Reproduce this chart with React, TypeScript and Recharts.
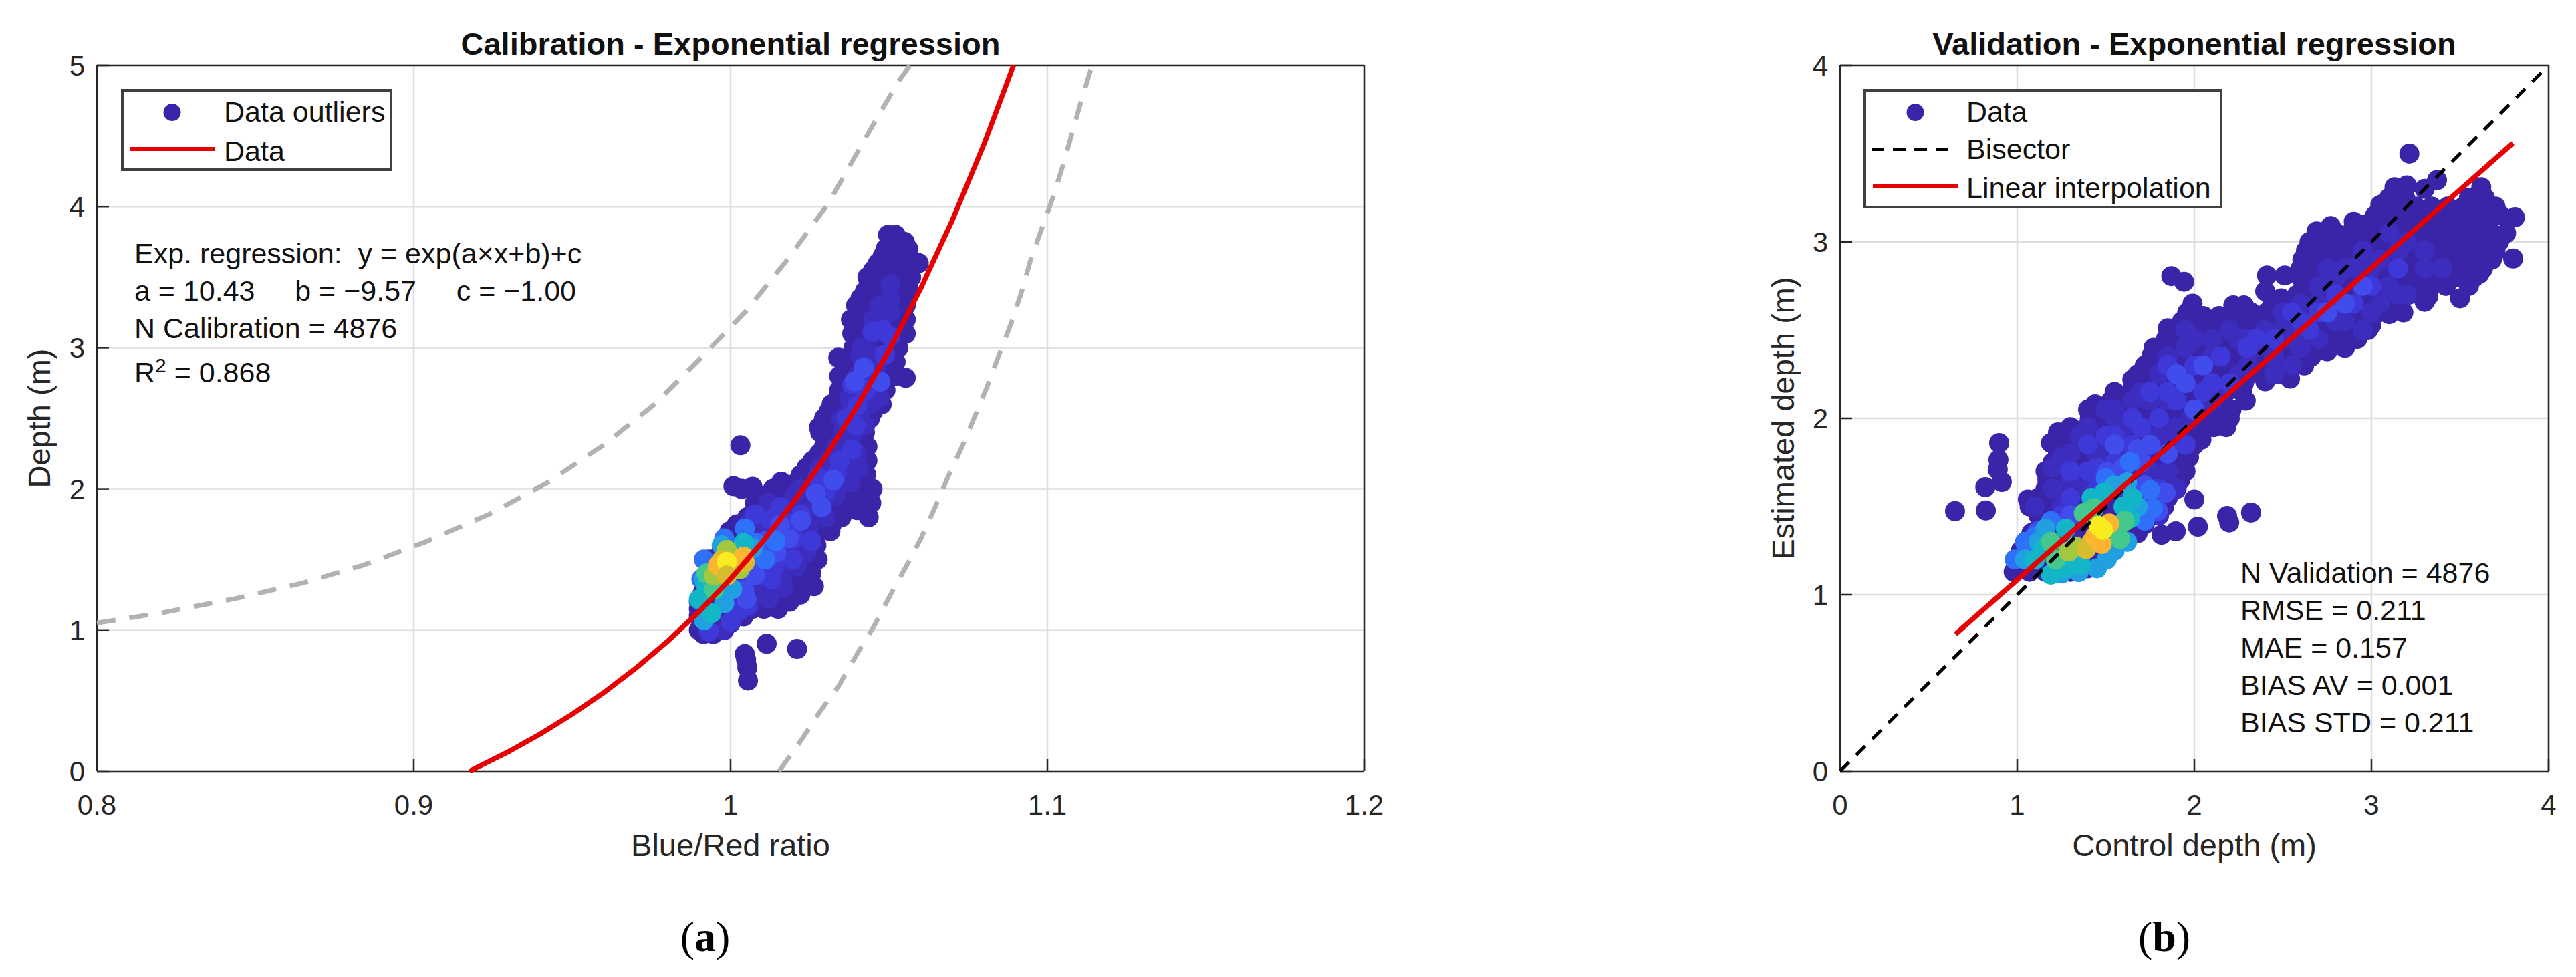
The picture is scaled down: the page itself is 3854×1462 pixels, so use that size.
import { ScatterChart, Scatter, XAxis, YAxis, CartesianGrid } from 'recharts';

type Pt = [number, number];

const FONT = '"Liberation Sans", Arial, sans-serif';

// density colours, low to high (parula-ish)
const TIER_COLORS = ['#3a25a8', '#3c2dbe', '#3f38d8', '#404cec', '#2f70f8', '#20a0e0', '#12b6c6', '#44c88c', '#a2c840', '#d8bc30', '#fdb430', '#f8ec20', '#d8bc30'];

// ---- (a) calibration ----
const CAL_X_TICKS = [0.8, 0.9, 1, 1.1, 1.2];
const CAL_Y_TICKS = [0, 1, 2, 3, 4, 5];

const calFit: Pt[] = [[0.9176, 0], [0.93, 0.139], [0.94, 0.264], [0.95, 0.403], [0.96, 0.557], [0.97, 0.728], [0.98, 0.918], [0.99, 1.129], [1, 1.363], [1.01, 1.623], [1.02, 1.911], [1.03, 2.231], [1.04, 2.587], [1.05, 2.981], [1.06, 3.419], [1.07, 3.904], [1.08, 4.443], [1.0893, 5]];
const calUpper: Pt[] = [[0.8, 1.05], [0.82, 1.12], [0.8436, 1.222], [0.8646, 1.331], [0.884, 1.459], [0.9033, 1.621], [0.9243, 1.826], [0.9421, 2.043], [0.9598, 2.309], [0.976, 2.599], [0.9905, 2.925], [1.005, 3.263], [1.018, 3.626], [1.0309, 4.024], [1.0462, 4.628], [1.0532, 4.894], [1.0566, 5]];
const calLower: Pt[] = [[1.0153, 0], [1.0227, 0.232], [1.0278, 0.408], [1.034, 0.599], [1.0401, 0.837], [1.0453, 1.028], [1.0505, 1.251], [1.0552, 1.442], [1.0601, 1.649], [1.0646, 1.872], [1.0685, 2.078], [1.0731, 2.301], [1.0773, 2.524], [1.0811, 2.731], [1.0848, 2.954], [1.0886, 3.176], [1.0919, 3.4], [1.0947, 3.622], [1.0985, 3.861], [1.1018, 4.068], [1.1051, 4.306], [1.1079, 4.529], [1.1107, 4.752], [1.1141, 5]];

const calOutliers: Pt[] = [[1.0031, 2.309], [1.0009, 2.02], [1.0069, 2.015], [1.0035, 2.0], [1.0114, 0.903], [1.021, 0.866], [1.0045, 0.83], [1.0053, 0.734], [1.0055, 0.642], [1.0049, 0.79], [1.034, 2.93], [1.0553, 2.787], [1.0279, 2.436], [1.0263, 1.31]];
const calDark: Pt[] = [
  [1.0497, 3.8], [1.0521, 3.8],
  [1.051, 3.75], [1.055, 3.75],
  [1.0489, 3.7], [1.0525, 3.7], [1.0561, 3.7],
  [1.048, 3.65], [1.052, 3.65], [1.056, 3.65],
  [1.0465, 3.6], [1.05, 3.6], [1.054, 3.6], [1.0594, 3.6],
  [1.045, 3.55], [1.049, 3.55], [1.053, 3.55], [1.057, 3.55],
  [1.0432, 3.5], [1.047, 3.5], [1.051, 3.5], [1.055, 3.5], [1.057, 3.5],
  [1.044, 3.45], [1.048, 3.45], [1.052, 3.45], [1.056, 3.45],
  [1.0424, 3.4], [1.046, 3.4], [1.05, 3.4], [1.054, 3.4], [1.0561, 3.4],
  [1.041, 3.35], [1.045, 3.35], [1.049, 3.35], [1.053, 3.35],
  [1.0396, 3.3], [1.0435, 3.3], [1.048, 3.3], [1.052, 3.3], [1.0553, 3.3],
  [1.04, 3.25], [1.044, 3.25], [1.048, 3.25], [1.052, 3.25],
  [1.038, 3.2], [1.042, 3.2], [1.046, 3.2], [1.05, 3.2], [1.0553, 3.2],
  [1.04, 3.15], [1.045, 3.15], [1.05, 3.15], [1.054, 3.15],
  [1.0384, 3.1], [1.043, 3.1], [1.0475, 3.1], [1.052, 3.1], [1.0553, 3.1],
  [1.041, 3.05], [1.045, 3.05], [1.05, 3.05],
  [1.0388, 3.0], [1.043, 3.0], [1.047, 3.0], [1.051, 3.0], [1.0529, 3.0],
  [1.038, 2.95], [1.043, 2.95], [1.048, 2.95], [1.051, 2.95],
  [1.036, 2.9], [1.04, 2.9], [1.045, 2.9], [1.05, 2.9], [1.0521, 2.9],
  [1.037, 2.85], [1.042, 2.85], [1.047, 2.85], [1.051, 2.85],
  [1.0343, 2.8], [1.039, 2.8], [1.044, 2.8], [1.049, 2.8], [1.0521, 2.8],
  [1.036, 2.75], [1.041, 2.75], [1.046, 2.75],
  [1.0343, 2.7], [1.039, 2.7], [1.044, 2.7], [1.0489, 2.7],
  [1.034, 2.65], [1.039, 2.65], [1.044, 2.65], [1.047, 2.65],
  [1.0319, 2.6], [1.0365, 2.6], [1.0415, 2.6], [1.0477, 2.6],
  [1.031, 2.55], [1.036, 2.55], [1.041, 2.55], [1.045, 2.55],
  [1.0295, 2.5], [1.034, 2.5], [1.039, 2.5], [1.044, 2.5],
  [1.031, 2.45], [1.036, 2.45], [1.041, 2.45],
  [1.0283, 2.4], [1.033, 2.4], [1.038, 2.4], [1.0424, 2.4],
  [1.031, 2.35], [1.036, 2.35], [1.041, 2.35],
  [1.0295, 2.3], [1.034, 2.3], [1.039, 2.3], [1.0432, 2.3],
  [1.028, 2.25], [1.032, 2.25], [1.037, 2.25], [1.042, 2.25],
  [1.0259, 2.2], [1.03, 2.2], [1.035, 2.2], [1.04, 2.2], [1.0432, 2.2],
  [1.024, 2.15], [1.03, 2.15], [1.035, 2.15], [1.04, 2.15],
  [1.0222, 2.1], [1.027, 2.1], [1.032, 2.1], [1.037, 2.1], [1.0428, 2.1],
  [1.016, 2.05], [1.021, 2.05], [1.026, 2.05], [1.031, 2.05], [1.036, 2.05], [1.042, 2.05],
  [1.0134, 2.0], [1.018, 2.0], [1.023, 2.0], [1.028, 2.0], [1.033, 2.0], [1.038, 2.0], [1.0448, 2.0],
  [1.011, 1.95], [1.015, 1.95], [1.02, 1.95], [1.025, 1.95], [1.03, 1.95], [1.035, 1.95], [1.04, 1.95],
  [1.0077, 1.9], [1.012, 1.9], [1.017, 1.9], [1.022, 1.9], [1.027, 1.9], [1.032, 1.9], [1.037, 1.9], [1.0444, 1.9],
  [1.008, 1.85], [1.012, 1.85], [1.018, 1.85], [1.023, 1.85], [1.028, 1.85], [1.033, 1.85], [1.04, 1.85],
  [1.0053, 1.8], [1.01, 1.8], [1.015, 1.8], [1.02, 1.8], [1.025, 1.8], [1.03, 1.8], [1.035, 1.8], [1.0436, 1.8],
  [1.002, 1.75], [1.007, 1.75], [1.012, 1.75], [1.017, 1.75], [1.022, 1.75], [1.027, 1.75], [1.032, 1.75],
  [0.9997, 1.7], [1.004, 1.7], [1.009, 1.7], [1.014, 1.7], [1.019, 1.7], [1.024, 1.7], [1.0315, 1.7],
  [1.0, 1.65], [1.006, 1.65], [1.011, 1.65], [1.016, 1.65], [1.021, 1.65], [1.026, 1.65],
  [0.9984, 1.6], [1.003, 1.6], [1.008, 1.6], [1.013, 1.6], [1.018, 1.6], [1.023, 1.6], [1.0271, 1.6],
  [0.997, 1.55], [1.001, 1.55], [1.006, 1.55], [1.011, 1.55], [1.016, 1.55], [1.021, 1.55], [1.026, 1.55],
  [0.9932, 1.5], [0.998, 1.5], [1.003, 1.5], [1.008, 1.5], [1.013, 1.5], [1.018, 1.5], [1.023, 1.5], [1.0275, 1.5],
  [0.993, 1.45], [0.9995, 1.45], [1.005, 1.45], [1.01, 1.45], [1.015, 1.45], [1.02, 1.45], [1.025, 1.45],
  [0.9924, 1.4], [0.997, 1.4], [1.002, 1.4], [1.007, 1.4], [1.012, 1.4], [1.017, 1.4], [1.022, 1.4], [1.0255, 1.4],
  [0.992, 1.35], [0.9985, 1.35], [1.004, 1.35], [1.009, 1.35], [1.014, 1.35], [1.019, 1.35], [1.024, 1.35],
  [0.9916, 1.3], [0.996, 1.3], [1.001, 1.3], [1.006, 1.3], [1.011, 1.3], [1.016, 1.3], [1.021, 1.3],
  [0.991, 1.25], [0.9975, 1.25], [1.003, 1.25], [1.008, 1.25], [1.013, 1.25], [1.018, 1.25], [1.022, 1.25],
  [0.99, 1.2], [0.995, 1.2], [1.0, 1.2], [1.005, 1.2], [1.01, 1.2], [1.015, 1.2], [1.0186, 1.2],
  [0.99, 1.15], [0.9975, 1.15], [1.003, 1.15], [1.007, 1.15], [1.0105, 1.15], [1.015, 1.15],
  [0.99, 1.1], [0.995, 1.1], [1.0, 1.1], [1.0041, 1.096],
  [0.991, 1.05], [0.996, 1.05], [1.0, 1.05],
  [0.99, 1.0], [0.9935, 1.0], [0.9972, 1.0], [0.9915, 0.972], [0.9945, 0.972],
];
const calMid: Pt[] = [[1.0505, 3.45], [1.0505, 3.35], [1.047, 3.3], [1.0505, 3.25], [1.045, 3.2], [1.045, 3.1], [1.049, 3.1], [1.0415, 3.0], [1.045, 2.95], [1.049, 2.95], [1.04, 2.8], [1.044, 2.75], [1.046, 2.85], [1.0375, 2.65], [1.041, 2.55], [1.035, 2.5], [1.039, 2.4], [1.036, 2.3], [1.04, 2.25], [1.031, 2.2], [1.035, 2.15], [1.038, 2.05], [1.028, 2.05], [1.033, 1.95], [1.02, 1.95], [1.015, 1.85], [1.025, 1.85], [1.03, 1.8], [1.01, 1.75], [1.02, 1.7], [1.0055, 1.75], [1.015, 1.55], [1.02, 1.6], [1.006, 1.3], [1.012, 1.35], [1.003, 1.2], [1.009, 1.25], [1.017, 1.4], [0.998, 1.0], [1.041, 2.95], [1.047, 2.65], [1.0425, 2.45], [1.0335, 2.3], [1.028, 2.15], [1.022, 2.0], [1.012, 1.9], [1.007, 1.8], [1.016, 1.72], [1.025, 1.72], [1.01, 1.5], [1.0165, 1.3], [1.001, 1.12], [1.024, 1.55], [1.021, 1.45], [1.012, 1.22], [1.006, 1.17], [1.038, 2.6], [1.044, 2.6], [1.0355, 2.4], [1.0405, 2.15], [1.0335, 2.02]];
const calBlue3: Pt[] = [[1.0481, 3.125], [1.0424, 2.86], [1.0384, 2.74], [1.04, 2.594], [1.0303, 1.99], [1.0158, 1.87], [1.0077, 1.82], [1.0222, 1.82], [1.0336, 2.11], [1.0384, 2.28], [1.0045, 1.36], [1.0029, 1.14], [0.9932, 0.99], [1.0158, 1.68], [1.0255, 1.63], [1.0093, 1.39], [1.0505, 3.08], [1.0448, 3.113], [1.0486, 2.95], [1.0429, 2.7], [1.0137, 1.458], [1.0052, 1.171], [1.02, 1.65], [1.0125, 1.78], [1.0185, 1.76], [1.013, 1.36], [1.0195, 1.5], [1.0, 1.06], [1.0365, 2.5], [1.0345, 2.2], [1.0275, 2.08], [1.0395, 2.45]];
const calBlue4: Pt[] = [[1.042, 2.858], [1.0473, 2.76], [1.0392, 2.763], [1.0269, 1.967], [1.0222, 1.776], [1.0156, 1.744], [1.0288, 1.872], [1.0325, 2.063], [1.0184, 1.649], [1.0109, 1.63], [1.0077, 1.39], [1.0043, 1.28], [1.0145, 1.55], [1.0085, 1.5], [1.005, 1.22]];
const calBlue5: Pt[] = [[0.998, 1.65], [1.0045, 1.72], [1.0142, 1.63], [1.0109, 1.5], [0.9916, 1.5], [0.9908, 1.36], [1.008, 1.617]];
const calCyan: Pt[] = [[0.998, 1.19], [1.0005, 1.29], [0.9916, 1.07], [0.9972, 1.6], [1.0069, 1.58], [0.9916, 1.36]];
const calTeal: Pt[] = [[1.0041, 1.616], [0.99, 1.217], [0.994, 1.12], [0.9924, 1.31]];
const calGreen: Pt[] = [[0.9924, 1.4], [0.9948, 1.29]];
const calLime: Pt[] = [[0.9988, 1.567], [0.9948, 1.386], [1.0029, 1.43]];
const calMustard: Pt[] = [[0.9972, 1.495], [1.0045, 1.48]];
const calOrange: Pt[] = [[0.996, 1.458], [1.0041, 1.52]];
const calYellow: Pt[] = [[0.9988, 1.483]];
const calMustardTop: Pt[] = [[0.9988, 1.386]];

const calLayers = [[...calDark, ...calOutliers], calMid, calBlue3, calBlue4, calBlue5, calCyan, calTeal, calGreen, calLime, calMustard, calOrange, calYellow, calMustardTop];

// ---- (b) validation ----
const VAL_TICKS = [0, 1, 2, 3, 4];

const valFit: Pt[] = [[0.652, 0.777], [3.798, 3.559]];
const valBisector: Pt[] = [[0, 0], [3.97, 3.97]];

const valOutliers: Pt[] = [[0.649, 1.474], [0.823, 1.478], [0.82, 1.61], [0.913, 1.64], [0.89, 1.71], [0.894, 1.765], [0.898, 1.86], [1.06, 1.54], [2.0, 1.54], [2.02, 1.386], [1.895, 1.36], [1.815, 1.34], [2.185, 1.447], [2.197, 1.41], [2.32, 1.466], [3.214, 3.5], [3.37, 3.35], [3.13, 3.31], [3.2, 3.32], [3.3, 3.3], [3.62, 3.31], [1.87, 2.806], [1.942, 2.774], [3.8, 2.906], [3.81, 3.14], [3.05, 3.21], [2.69, 3.06], [2.77, 3.09], [2.9, 3.115], [3.61, 2.82], [3.69, 2.93], [2.66, 2.35], [2.54, 2.225], [2.29, 2.1], [2.18, 1.95], [2.85, 2.45], [3.18, 2.6], [1.76, 2.36], [1.85, 2.51], [1.99, 2.65]];
const valDark: Pt[] = [
  [3.1, 3.25], [3.19, 3.25], [3.55, 3.25], [3.64, 3.25],
  [3.07, 3.2], [3.16, 3.2], [3.25, 3.2], [3.34, 3.2], [3.43, 3.2], [3.52, 3.2], [3.61, 3.2], [3.7, 3.2],
  [3.02, 3.15], [3.11, 3.15], [3.2, 3.15], [3.29, 3.15], [3.38, 3.15], [3.47, 3.15], [3.56, 3.15], [3.65, 3.15], [3.73, 3.15],
  [2.97, 3.1], [3.03, 3.1], [3.12, 3.1], [3.21, 3.1], [3.3, 3.1], [3.39, 3.1], [3.48, 3.1], [3.57, 3.1], [3.66, 3.1], [3.76, 3.05],
  [2.72, 3.05], [2.8, 3.05], [2.88, 3.05], [2.96, 3.05], [3.05, 3.05], [3.14, 3.05], [3.23, 3.05], [3.32, 3.05], [3.41, 3.05], [3.5, 3.05], [3.59, 3.05], [3.68, 3.05],
  [2.65, 3.0], [2.73, 3.0], [2.82, 3.0], [2.91, 3.0], [3.0, 3.0], [3.09, 3.0], [3.18, 3.0], [3.27, 3.0], [3.36, 3.0], [3.45, 3.0], [3.54, 3.0], [3.63, 3.0], [3.72, 3.0],
  [2.63, 2.95], [2.71, 2.95], [2.8, 2.95], [2.89, 2.95], [2.98, 2.95], [3.07, 2.95], [3.16, 2.95], [3.25, 2.95], [3.34, 2.95], [3.43, 2.95], [3.52, 2.95], [3.61, 2.95], [3.7, 2.95],
  [2.61, 2.9], [2.69, 2.9], [2.78, 2.9], [2.87, 2.9], [2.96, 2.9], [3.05, 2.9], [3.14, 2.9], [3.23, 2.9], [3.32, 2.9], [3.41, 2.9], [3.5, 2.9], [3.59, 2.9], [3.68, 2.9],
  [2.6, 2.85], [2.65, 2.85], [2.73, 2.85], [2.82, 2.85], [2.91, 2.85], [3.0, 2.85], [3.09, 2.85], [3.18, 2.85], [3.27, 2.85], [3.36, 2.85], [3.45, 2.85], [3.54, 2.85], [3.63, 2.85],
  [2.41, 2.81], [2.51, 2.81], [2.6, 2.8], [2.68, 2.8], [2.77, 2.8], [2.86, 2.8], [2.95, 2.8], [3.04, 2.8], [3.13, 2.8], [3.22, 2.8], [3.31, 2.8], [3.4, 2.8], [3.49, 2.8], [3.58, 2.8],
  [2.62, 2.75], [2.7, 2.75], [2.79, 2.75], [2.88, 2.75], [2.97, 2.75], [3.06, 2.75], [3.15, 2.75], [3.24, 2.75], [3.33, 2.75], [3.42, 2.75], [3.55, 2.75],
  [2.4, 2.72], [2.49, 2.68], [2.58, 2.7], [2.67, 2.7], [2.76, 2.7], [2.85, 2.7], [2.94, 2.7], [3.03, 2.7], [3.12, 2.7], [3.21, 2.7], [3.32, 2.69], [3.5, 2.68],
  [2.22, 2.64], [2.28, 2.64], [2.44, 2.65], [2.53, 2.65], [2.62, 2.65], [2.71, 2.65], [2.8, 2.65], [2.89, 2.65], [2.98, 2.65], [3.07, 2.65], [3.16, 2.65], [3.3, 2.66],
  [1.96, 2.6], [2.05, 2.58], [2.14, 2.58], [2.23, 2.6], [2.32, 2.6], [2.41, 2.6], [2.5, 2.6], [2.59, 2.6], [2.68, 2.6], [2.77, 2.6], [2.86, 2.6], [2.95, 2.6], [3.04, 2.6], [3.1, 2.59],
  [1.93, 2.55], [2.02, 2.55], [2.11, 2.55], [2.2, 2.55], [2.29, 2.55], [2.38, 2.55], [2.47, 2.55], [2.56, 2.55], [2.65, 2.55], [2.74, 2.55], [2.83, 2.55], [2.92, 2.55], [3.0, 2.53],
  [1.9, 2.5], [1.99, 2.5], [2.08, 2.5], [2.17, 2.5], [2.26, 2.5], [2.35, 2.5], [2.44, 2.5], [2.53, 2.5], [2.62, 2.5], [2.71, 2.5], [2.8, 2.5], [2.89, 2.5], [2.98, 2.5],
  [1.84, 2.45], [1.93, 2.45], [2.02, 2.45], [2.11, 2.45], [2.2, 2.45], [2.29, 2.45], [2.38, 2.45], [2.47, 2.45], [2.56, 2.45], [2.65, 2.45], [2.74, 2.45], [2.83, 2.45], [2.92, 2.45],
  [1.77, 2.4], [1.86, 2.4], [1.95, 2.4], [2.04, 2.4], [2.13, 2.4], [2.22, 2.4], [2.31, 2.4], [2.4, 2.4], [2.49, 2.4], [2.58, 2.4], [2.67, 2.4], [2.76, 2.4], [2.85, 2.4],
  [1.85, 2.35], [1.94, 2.35], [2.03, 2.35], [2.12, 2.35], [2.21, 2.35], [2.3, 2.35], [2.39, 2.35], [2.48, 2.35], [2.57, 2.35], [2.75, 2.38],
  [1.72, 2.3], [1.81, 2.3], [1.9, 2.3], [1.99, 2.3], [2.08, 2.3], [2.17, 2.3], [2.26, 2.3], [2.35, 2.3], [2.44, 2.3], [2.53, 2.3], [2.62, 2.3],
  [1.68, 2.25], [1.77, 2.25], [1.86, 2.25], [1.95, 2.25], [2.04, 2.25], [2.13, 2.25], [2.22, 2.25], [2.31, 2.25], [2.4, 2.25], [2.49, 2.25],
  [1.65, 2.22], [1.74, 2.2], [1.83, 2.2], [1.92, 2.2], [2.01, 2.2], [2.1, 2.2], [2.19, 2.2], [2.28, 2.2], [2.4, 2.21],
  [1.55, 2.15], [1.64, 2.15], [1.73, 2.15], [1.82, 2.15], [1.91, 2.15], [2.0, 2.15], [2.09, 2.15], [2.18, 2.15], [2.27, 2.15],
  [1.44, 2.08], [1.53, 2.1], [1.62, 2.1], [1.71, 2.1], [1.8, 2.1], [1.89, 2.1], [1.98, 2.1], [2.07, 2.1], [2.16, 2.1],
  [1.4, 2.05], [1.49, 2.05], [1.58, 2.05], [1.67, 2.05], [1.76, 2.05], [1.85, 2.05], [1.94, 2.05], [2.03, 2.05], [2.12, 2.05], [2.21, 2.05],
  [1.41, 2.0], [1.5, 2.0], [1.59, 2.0], [1.68, 2.0], [1.77, 2.0], [1.86, 2.0], [1.95, 2.0], [2.04, 2.0], [2.13, 2.0], [2.2, 2.0],
  [1.3, 1.95], [1.39, 1.95], [1.48, 1.95], [1.57, 1.95], [1.66, 1.95], [1.75, 1.95], [1.84, 1.95], [1.93, 1.95], [2.02, 1.95], [2.11, 1.95],
  [1.23, 1.92], [1.32, 1.9], [1.41, 1.9], [1.5, 1.9], [1.59, 1.9], [1.68, 1.9], [1.77, 1.9], [1.86, 1.9], [1.95, 1.9], [2.04, 1.88],
  [1.19, 1.86], [1.28, 1.85], [1.37, 1.85], [1.46, 1.85], [1.55, 1.85], [1.64, 1.85], [1.73, 1.85], [1.82, 1.85], [1.91, 1.85], [2.0, 1.85],
  [1.23, 1.8], [1.31, 1.8], [1.4, 1.8], [1.49, 1.8], [1.58, 1.8], [1.67, 1.8], [1.76, 1.8], [1.85, 1.8], [1.97, 1.78],
  [1.2, 1.75], [1.28, 1.75], [1.37, 1.75], [1.46, 1.75], [1.55, 1.75], [1.64, 1.75], [1.73, 1.75], [1.82, 1.75], [1.91, 1.75],
  [1.16, 1.7], [1.25, 1.7], [1.34, 1.7], [1.43, 1.7], [1.52, 1.7], [1.61, 1.7], [1.7, 1.7], [1.79, 1.7], [1.88, 1.7], [1.95, 1.7],
  [1.17, 1.65], [1.28, 1.65], [1.37, 1.65], [1.46, 1.65], [1.55, 1.65], [1.64, 1.65], [1.73, 1.65], [1.82, 1.65], [1.92, 1.65],
  [1.16, 1.6], [1.24, 1.6], [1.33, 1.6], [1.42, 1.6], [1.51, 1.6], [1.6, 1.6], [1.69, 1.6], [1.78, 1.6], [1.88, 1.6],
  [1.12, 1.55], [1.2, 1.55], [1.29, 1.55], [1.38, 1.55], [1.47, 1.55], [1.56, 1.55], [1.65, 1.55], [1.74, 1.55], [1.85, 1.55],
  [1.07, 1.5], [1.15, 1.5], [1.24, 1.5], [1.33, 1.5], [1.42, 1.5], [1.51, 1.5], [1.6, 1.5], [1.69, 1.5], [1.78, 1.5], [1.83, 1.5],
  [1.12, 1.45], [1.2, 1.45], [1.29, 1.45], [1.38, 1.45], [1.47, 1.45], [1.56, 1.45], [1.65, 1.45], [1.74, 1.45], [1.8, 1.45],
  [1.13, 1.4], [1.2, 1.4], [1.3, 1.4], [1.4, 1.4], [1.5, 1.4], [1.6, 1.4], [1.72, 1.4],
  [1.08, 1.35], [1.18, 1.35], [1.27, 1.35], [1.36, 1.35], [1.45, 1.35], [1.54, 1.35], [1.63, 1.35], [1.68, 1.35],
  [1.05, 1.3], [1.14, 1.3], [1.23, 1.3], [1.32, 1.3], [1.41, 1.3], [1.5, 1.3], [1.57, 1.3],
  [1.02, 1.25], [1.11, 1.25], [1.2, 1.25], [1.29, 1.25], [1.38, 1.25], [1.47, 1.25], [1.54, 1.25],
  [1.0, 1.2], [1.09, 1.2], [1.18, 1.2], [1.27, 1.2], [1.36, 1.2], [1.45, 1.2], [1.49, 1.2],
  [0.98, 1.13], [1.07, 1.13], [1.16, 1.13], [1.2, 1.13], [1.3, 1.13], [1.4, 1.15],
];
const valMid: Pt[] = [
  [1.3, 1.65], [1.4, 1.6], [1.3, 1.8], [1.45, 1.8], [1.6, 1.85], [1.75, 1.7], [1.4, 1.95], [1.55, 2.0], [1.7, 1.95], [1.85, 1.85], [1.55, 2.05], [1.7, 2.15],
  [1.85, 2.35], [1.95, 2.4], [2.1, 2.45], [2.25, 2.45], [2.4, 2.5], [2.15, 2.15], [2.3, 2.3], [2.45, 2.35], [2.55, 2.45], [2.5, 2.6], [2.65, 2.5], [2.7, 2.75], [2.75, 2.85], [2.85, 2.55], [2.9, 2.85], [3.0, 2.6], [3.0, 2.85], [3.1, 2.75], [3.2, 3.0], [3.3, 2.85], [3.15, 2.95], [1.2, 1.6], [1.9, 1.6], [1.8, 1.55],
  [1.5, 1.65], [1.6, 1.7], [1.2, 1.72], [1.85, 1.7], [1.35, 1.9], [1.6, 1.95], [1.8, 1.9], [1.9, 1.95], [1.65, 2.1], [1.85, 2.1], [1.98, 2.0], [2.1, 2.1], [1.8, 2.25], [1.95, 2.5], [2.1, 2.35], [2.25, 2.25], [2.35, 2.4], [2.5, 2.5], [2.45, 2.25], [2.6, 2.4], [2.7, 2.45], [2.6, 2.65], [2.8, 2.55], [2.8, 2.8], [2.95, 2.5], [2.95, 2.95], [3.05, 2.65], [3.2, 2.7], [3.1, 3.05], [3.3, 2.95], [3.4, 2.85], [1.1, 1.5], [1.25, 1.5], [1.7, 1.5], [1.8, 1.45],
  [1.25, 1.78], [1.5, 2.05], [1.75, 2.1], [2.0, 2.45], [2.2, 2.5], [2.3, 2.45], [2.55, 2.3], [2.7, 2.65], [2.85, 2.85], [3.05, 2.9], [3.15, 2.7],
];
const valBlue3: Pt[] = [[1.4, 1.7], [1.55, 1.75], [1.7, 1.8], [1.5, 1.9], [1.65, 2.0], [1.8, 2.0], [1.75, 2.15], [1.9, 2.1], [1.85, 2.3], [2.0, 2.3], [2.05, 2.15], [2.15, 2.35], [2.2, 2.2], [2.3, 2.4], [2.45, 2.45], [2.6, 2.55], [2.7, 2.6], [2.8, 2.7], [2.9, 2.65], [3.0, 2.75], [3.15, 2.85], [1.8, 1.6], [1.25, 1.45], [1.3, 1.55], [1.45, 1.6], [1.6, 1.6], [1.75, 1.5], [1.65, 1.85], [1.4, 1.85], [1.95, 1.85], [1.3, 1.7], [1.45, 1.72], [1.55, 1.9], [1.7, 1.95], [1.85, 2.15], [2.1, 2.2], [2.35, 2.45], [2.55, 2.6], [2.65, 2.5]];
const valBlue4: Pt[] = [[1.95, 2.2], [2.05, 2.3], [1.9, 2.25], [2.0, 2.05], [1.7, 1.75], [1.75, 1.85], [1.85, 1.8], [2.75, 2.6], [2.85, 2.65], [2.95, 2.75], [1.55, 1.85], [1.795, 1.476], [1.838, 1.578], [1.679, 1.825], [1.506, 1.694], [1.116, 1.36], [1.6, 1.72], [1.3, 1.45], [1.72, 1.62]];
const valBlue5: Pt[] = [[1.75, 1.593], [1.766, 1.491], [1.636, 1.752], [1.044, 1.3], [0.986, 1.2], [1.19, 1.418], [1.1, 1.33], [1.05, 1.25], [1.5, 1.66], [1.72, 1.42]];
const valCyan: Pt[] = [[1.506, 1.201], [1.347, 1.128], [1.62, 1.3], [1.044, 1.2], [1.159, 1.375], [1.62, 1.636], [1.549, 1.62], [1.25, 1.12], [1.45, 1.15], [1.12, 1.3], [1.68, 1.5], [1.55, 1.25]];
const valTeal: Pt[] = [[1.49, 1.578], [1.65, 1.549], [1.636, 1.433], [1.275, 1.375], [1.1, 1.2], [1.19, 1.114], [1.36, 1.172], [1.42, 1.549], [1.27, 1.15], [1.15, 1.27], [1.6, 1.5]];
const valGreen: Pt[] = [[1.19, 1.3], [1.217, 1.2], [1.58, 1.317], [1.607, 1.418], [1.434, 1.491], [1.376, 1.462]];
const valLime: Pt[] = [[1.29, 1.245], [1.33, 1.274]];
const valMustard: Pt[] = [[1.39, 1.259], [1.42, 1.3]];
const valOrange: Pt[] = [[1.477, 1.288], [1.52, 1.404], [1.44, 1.33]];
const valYellow: Pt[] = [[1.484, 1.368], [1.46, 1.39]];

const valLayers = [[...valDark, ...valOutliers], valMid, valBlue3, valBlue4, valBlue5, valCyan, valTeal, valGreen, valLime, valMustard, valOrange, valYellow];

const toRows = (pts: Pt[]) => pts.map(([x, y]) => ({ x, y }));

const tickStyle = { fontSize: 42, fill: '#262626', fontFamily: FONT };
const labelStyle = { fontSize: 47, fill: '#262626', fontFamily: FONT };
const axisLine = { stroke: '#262626', strokeWidth: 2.5 };

const dot = (fill: string) => (p: any) => <circle cx={p.cx} cy={p.cy} r={15} fill={fill} />;
const noDot = () => null;

interface LineSpec {
  data: Pt[];
  stroke: string;
  width: number;
  dash?: string;
}

interface PanelProps {
  left: number;
  width: number;
  plotLeft: number;
  plotRight: number;
  xDomain: number[];
  yDomain: number[];
  xTicks: number[];
  yTicks: number[];
  title: string;
  xLabel: string;
  yLabel: string;
  yLabelOffset: number;
  layers: Pt[][];
  lines: LineSpec[];
}

function Panel(props: PanelProps) {
  const { left, width, plotLeft, plotRight, xDomain, yDomain, xTicks, yTicks, layers, lines } = props;
  return (
    <div style={{ position: 'absolute', left, top: 0 }}>
      <ScatterChart width={width} height={1300} margin={{ top: 0, right: 0, bottom: 0, left: 0 }}>
        <CartesianGrid stroke="#dedede" strokeWidth={2.5} />
        <XAxis xAxisId="top" orientation="top" type="number" dataKey="x" domain={xDomain} ticks={xTicks} height={98} tick={false} tickSize={-18} axisLine={axisLine} tickLine={axisLine}
          label={{ value: props.title, position: 'insideBottom', offset: 16, style: { fontSize: 47, fontWeight: 700, fill: '#111', fontFamily: FONT } }} />
        <XAxis xAxisId={0} type="number" dataKey="x" domain={xDomain} ticks={xTicks} interval={0} height={146} tick={tickStyle} tickSize={-18} tickMargin={53} axisLine={axisLine} tickLine={axisLine}
          label={{ value: props.xLabel, position: 'insideBottom', offset: 19, style: labelStyle }} />
        <YAxis yAxisId={0} type="number" dataKey="y" domain={yDomain} ticks={yTicks} interval={0} width={plotLeft} tick={tickStyle} tickSize={-18} tickMargin={36} axisLine={axisLine} tickLine={axisLine}
          label={{ value: props.yLabel, angle: -90, position: 'insideLeft', offset: props.yLabelOffset, style: { ...labelStyle, textAnchor: 'middle' } }} />
        <YAxis yAxisId="right" orientation="right" type="number" dataKey="y" domain={yDomain} ticks={yTicks} width={width - plotRight} tick={false} tickSize={-18} axisLine={axisLine} tickLine={axisLine} />
        {layers.map((pts, i) => (
          <Scatter key={i} data={toRows(pts)} shape={dot(TIER_COLORS[i])} isAnimationActive={false} />
        ))}
        {lines.map((l, i) => (
          <Scatter key={`line-${i}`} data={toRows(l.data)} shape={noDot} line={{ stroke: l.stroke, strokeWidth: l.width, strokeDasharray: l.dash, fill: 'none' }} isAnimationActive={false} />
        ))}
      </ScatterChart>
    </div>
  );
}

const textLine = (x: number, cy: number, fontSize = 43): any => ({
  position: 'absolute', left: x, top: cy - fontSize * 0.6, fontSize, lineHeight: `${fontSize * 1.2}px`, whiteSpace: 'pre', fontFamily: FONT, color: '#111',
});

function LegendBox({ box, rows }: { box: number[]; rows: { kind: string; y: number; x0: number; x1: number; text: string; textX: number; textY: number }[] }) {
  const [x, y, w, h] = box;
  return (
    <div style={{ position: 'absolute', left: x, top: y, width: w, height: h, background: '#fff', border: '4px solid #404040', boxSizing: 'border-box' }}>
      <svg width={w} height={h} style={{ position: 'absolute', left: -4, top: -4 }}>
        {rows.map((r) =>
          r.kind === 'dot' ? (
            <circle key={r.text} cx={(r.x0 + r.x1) / 2 - x} cy={r.y - y} r={13} fill="#3a25a8" />
          ) : (
            <line key={r.text} x1={r.x0 - x} x2={r.x1 - x} y1={r.y - y} y2={r.y - y} stroke={r.kind === 'red' ? '#e60000' : '#000'} strokeWidth={r.kind === 'red' ? 6 : 4} strokeDasharray={r.kind === 'dash' ? '19 13' : undefined} />
          ),
        )}
      </svg>
      {rows.map((r) => (
        <div key={r.text} style={{ ...textLine(r.textX - x - 4, r.textY - y - 4), color: '#111' }}>{r.text}</div>
      ))}
    </div>
  );
}

export default function App() {
  return (
    <div style={{ position: 'absolute', left: 0, top: 0, width: 3854, height: 1462, background: '#fff', overflow: 'hidden' }}>
      <Panel left={0} width={2100} plotLeft={145} plotRight={2041} xDomain={[0.8, 1.2]} yDomain={[0, 5]} xTicks={CAL_X_TICKS} yTicks={CAL_Y_TICKS}
        title="Calibration - Exponential regression" xLabel="Blue/Red ratio" yLabel="Depth (m)" yLabelOffset={58} layers={calLayers}
        lines={[
          { data: calUpper, stroke: '#b2b2b2', width: 7, dash: '28 21' },
          { data: calLower, stroke: '#b2b2b2', width: 7, dash: '28 21' },
          { data: calFit, stroke: '#e60000', width: 7.5 },
        ]} />
      <Panel left={2600} width={1254} plotLeft={153} plotRight={1213} xDomain={[0, 4]} yDomain={[0, 4]} xTicks={VAL_TICKS} yTicks={VAL_TICKS}
        title="Validation - Exponential regression" xLabel="Control depth (m)" yLabel="Estimated depth (m)" yLabelOffset={67} layers={valLayers}
        lines={[
          { data: valBisector, stroke: '#000', width: 5, dash: '19 15' },
          { data: valFit, stroke: '#e60000', width: 7.5 },
        ]} />

      <LegendBox box={[181, 133, 406, 123]} rows={[
        { kind: 'dot', y: 168, x0: 194, x1: 321, text: 'Data outliers', textX: 335, textY: 168 },
        { kind: 'red', y: 223, x0: 194, x1: 321, text: 'Data', textX: 335, textY: 227 },
      ]} />
      <LegendBox box={[2788, 133, 537, 179]} rows={[
        { kind: 'dot', y: 168, x0: 2802, x1: 2929, text: 'Data', textX: 2942, textY: 168 },
        { kind: 'dash', y: 224, x0: 2800, x1: 2919, text: 'Bisector', textX: 2942, textY: 224 },
        { kind: 'red', y: 279, x0: 2802, x1: 2929, text: 'Linear interpolation', textX: 2942, textY: 282 },
      ]} />

      <div style={textLine(201, 380)}>{'Exp. regression:  y = exp(a×x+b)+c'}</div>
      <div style={textLine(201, 436)}>{'a = 10.43     b = −9.57     c = −1.00'}</div>
      <div style={textLine(201, 492)}>N Calibration = 4876</div>
      <div style={textLine(201, 558)}>R<sup style={{ fontSize: 30, lineHeight: 0 }}>2</sup> = 0.868</div>

      <div style={textLine(3352, 858)}>N Validation = 4876</div>
      <div style={textLine(3352, 914)}>RMSE = 0.211</div>
      <div style={textLine(3352, 970)}>MAE = 0.157</div>
      <div style={textLine(3352, 1026)}>BIAS AV = 0.001</div>
      <div style={textLine(3352, 1082)}>BIAS STD = 0.211</div>

      <div style={{ position: 'absolute', left: 1005, width: 100, top: 1365, textAlign: 'center', fontSize: 64, fontFamily: '"Liberation Serif", serif', color: '#000' }}>(<b>a</b>)</div>
      <div style={{ position: 'absolute', left: 3188, width: 100, top: 1365, textAlign: 'center', fontSize: 64, fontFamily: '"Liberation Serif", serif', color: '#000' }}>(<b>b</b>)</div>
    </div>
  );
}
